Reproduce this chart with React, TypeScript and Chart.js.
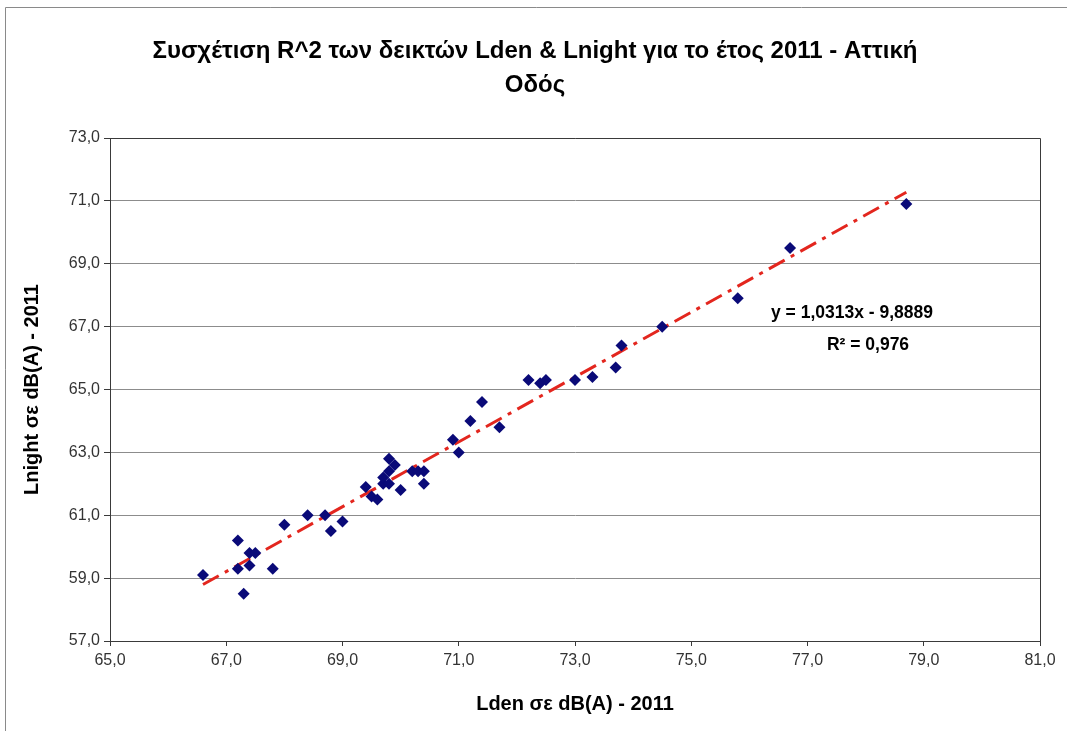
import React, { useEffect, useRef } from 'react';
import { Chart, registerables } from 'chart.js';

Chart.register(...registerables);

// ---- data ----
const ldenValues: number[] = [
  66.6, 67.2, 67.2, 67.3, 67.4, 67.5, 67.4, 67.8, 68.0, 68.4, 68.7, 68.8, 69.0,
  69.4, 69.5, 69.6, 69.7, 69.7, 69.8, 69.9, 69.8, 69.8, 70.0, 70.2, 70.3, 70.4, 70.4,
  70.9, 71.0, 71.2, 71.4, 71.7, 72.2, 72.4, 72.5, 73.0, 73.3, 73.7, 73.8, 74.5,
  75.8, 76.7, 78.7,
];
const lnightValues: number[] = [
  59.1, 60.2, 59.3, 58.5, 59.8, 59.8, 59.4, 59.3, 60.7, 61.0, 61.0, 60.5, 60.8,
  61.9, 61.6, 61.5, 62.0, 62.2, 62.8, 62.6, 62.0, 62.4, 61.8, 62.4, 62.4, 62.4, 62.0,
  63.4, 63.0, 64.0, 64.6, 63.8, 65.3, 65.2, 65.3, 65.3, 65.4, 65.7, 66.4, 67.0,
  67.9, 69.5, 70.9,
];
const trendSlope = 1.0313;
const trendIntercept = -9.8889;

const xMin = 65;
const xMax = 81;
const yMin = 57;
const yMax = 73;
const tickStep = 2;

const titleLines: string[] = [
  'Συσχέτιση R^2 των δεικτών Lden & Lnight για το έτος 2011 - Αττική',
  'Οδός',
];
const xAxisTitle = 'Lden σε dB(A) - 2011';
const yAxisTitle = 'Lnight σε dB(A) - 2011';
const equationText = 'y = 1,0313x - 9,8889';
const r2Text = 'R² = 0,976';

const FONT = '"Liberation Sans", Arial, sans-serif';

const fmt = (v: number) => v.toFixed(1).replace('.', ',');

const decorPlugin = {
  id: 'decor',
  afterDraw(chart: any) {
    const ctx: CanvasRenderingContext2D = chart.ctx;
    const { left, right, top, bottom } = chart.chartArea;
    ctx.save();
    // outer frame (left + top visible)
    ctx.strokeStyle = '#8a8a8a';
    ctx.lineWidth = 1;
    ctx.beginPath();
    ctx.moveTo(5.5, 731);
    ctx.lineTo(5.5, 7.5);
    ctx.lineTo(1067, 7.5);
    ctx.stroke();

    // plot frame
    ctx.strokeStyle = '#3a3a3a';
    ctx.beginPath();
    ctx.rect(Math.round(left) + 0.5, Math.round(top) + 0.5, Math.round(right - left), Math.round(bottom - top));
    ctx.stroke();

    // title
    ctx.fillStyle = '#000';
    ctx.textAlign = 'center';
    ctx.textBaseline = 'middle';
    ctx.font = `bold 24px ${FONT}`;
    ctx.fillText(titleLines[0], 535, 51);
    ctx.fillText(titleLines[1], 535, 85);

    // axis titles
    ctx.font = `bold 20px ${FONT}`;
    ctx.fillText(xAxisTitle, (left + right) / 2, 704);
    ctx.save();
    ctx.translate(32, (top + bottom) / 2);
    ctx.rotate(-Math.PI / 2);
    ctx.fillText(yAxisTitle, 0, 0);
    ctx.restore();

    // equation
    ctx.font = `bold 17.5px ${FONT}`;
    ctx.textAlign = 'center';
    ctx.fillText(equationText, 852, 313);
    ctx.fillText(r2Text, 868, 345);
    ctx.restore();
  },
};

export default function App() {
  const canvasRef = useRef<HTMLCanvasElement | null>(null);

  useEffect(() => {
    const canvas = canvasRef.current;
    if (!canvas) return;
    const points = ldenValues.map((x, i) => ({ x, y: lnightValues[i] }));
    const xLo = Math.min(...ldenValues);
    const xHi = Math.max(...ldenValues);
    const trend = [
      { x: xLo, y: trendSlope * xLo + trendIntercept },
      { x: xHi, y: trendSlope * xHi + trendIntercept },
    ];

    const chart = new Chart(canvas, {
      type: 'scatter',
      data: {
        datasets: [
          {
            type: 'line',
            label: 'trend',
            data: trend,
            borderColor: '#e3261e',
            borderWidth: 3,
            borderDash: [18, 7, 4, 7],
            pointRadius: 0,
            fill: false,
            order: 2,
          } as any,
          {
            label: 'Lnight',
            data: points,
            backgroundColor: '#0a0a78',
            borderColor: '#0a0a78',
            borderWidth: 0,
            pointStyle: 'rectRot',
            pointRadius: 6,
            order: 1,
          },
        ],
      },
      options: {
        responsive: false,
        animation: false,
        layout: { padding: { top: 138, right: 27, left: 0, bottom: 0 } },
        plugins: {
          legend: { display: false },
          tooltip: { enabled: false },
          title: { display: false },
        },
        scales: {
          x: {
            type: 'linear',
            min: xMin,
            max: xMax,
            ticks: {
              stepSize: tickStep,
              callback: (v: any) => fmt(Number(v)),
              font: { family: FONT, size: 16 },
              color: '#333',
              padding: 5,
              maxRotation: 0,
            },
            grid: {
              drawOnChartArea: false,
              drawTicks: true,
              tickLength: 5,
              tickColor: '#3a3a3a',
            },
            border: { color: '#3a3a3a' },
            afterFit: (scale: any) => {
              scale.height = 90;
            },
          },
          y: {
            type: 'linear',
            min: yMin,
            max: yMax,
            ticks: {
              stepSize: tickStep,
              callback: (v: any) => fmt(Number(v)),
              font: { family: FONT, size: 16 },
              color: '#333',
              padding: 4,
            },
            grid: {
              color: '#8c8c8c',
              tickLength: 6,
              tickColor: '#3a3a3a',
            },
            border: { color: '#3a3a3a' },
            afterFit: (scale: any) => {
              scale.width = 110;
            },
          },
        },
      },
      plugins: [decorPlugin],
    });

    return () => chart.destroy();
  }, []);

  return (
    <div style={{ position: 'absolute', left: 0, top: 0, width: 1067, height: 731, background: '#fff' }}>
      <canvas ref={canvasRef} width={1067} height={731} style={{ display: 'block' }} />
    </div>
  );
}
